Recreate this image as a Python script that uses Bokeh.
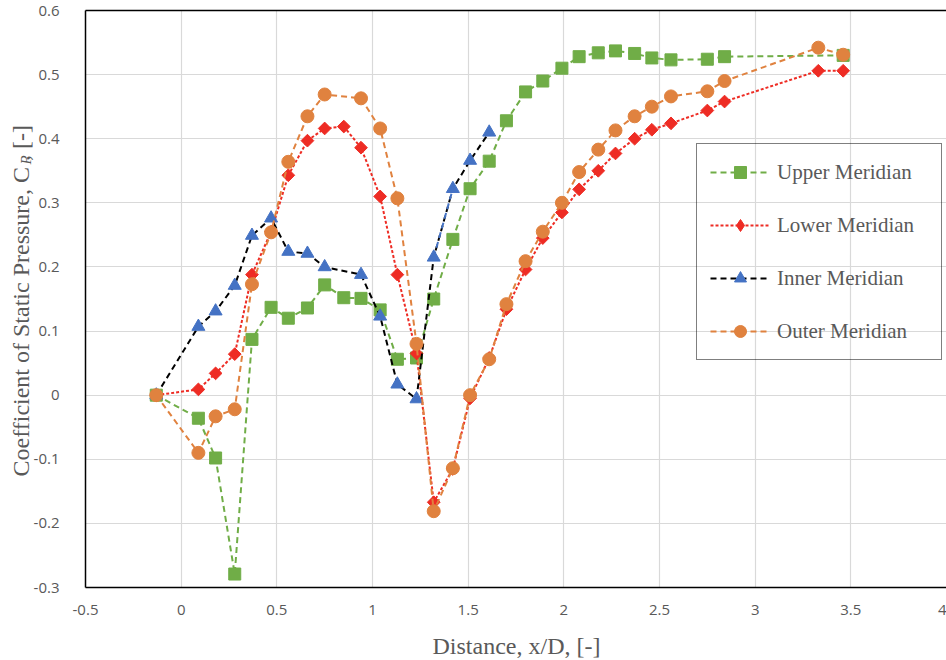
import numpy as np
from bokeh.plotting import figure
from bokeh.models import (Range1d, FixedTicker, PrintfTickFormatter, Legend,
                          LegendItem, Label, LinearAxis)
from bokeh.embed import file_html
from bokeh.resources import INLINE

# ---------------- data ----------------
upper_x = [-0.13, 0.09, 0.18, 0.28, 0.37, 0.47, 0.56, 0.66, 0.75, 0.85, 0.94, 1.04, 1.13, 1.23,
           1.32, 1.42, 1.51, 1.61, 1.70, 1.80, 1.89, 1.99, 2.08, 2.18, 2.27, 2.37, 2.46, 2.56,
           2.75, 2.84, 3.46]
upper_y = [0.0, -0.036, -0.098, -0.279, 0.087, 0.137, 0.12, 0.136, 0.172, 0.152, 0.151, 0.133,
           0.056, 0.058, 0.15, 0.243, 0.322, 0.365, 0.428, 0.473, 0.49, 0.51, 0.528, 0.534,
           0.537, 0.533, 0.526, 0.523, 0.524, 0.528, 0.53]

lower_x = [-0.13, 0.09, 0.18, 0.28, 0.37, 0.47, 0.56, 0.66, 0.75, 0.85, 0.94, 1.04, 1.13, 1.23,
           1.32, 1.42, 1.51, 1.61, 1.70, 1.80, 1.89, 1.99, 2.08, 2.18, 2.27, 2.37, 2.46, 2.56,
           2.75, 2.84, 3.33, 3.46]
lower_y = [0.0, 0.009, 0.034, 0.064, 0.188, 0.255, 0.343, 0.397, 0.416, 0.419, 0.386, 0.31,
           0.188, 0.065, -0.167, -0.115, -0.005, 0.058, 0.134, 0.196, 0.245, 0.285, 0.321,
           0.35, 0.377, 0.4, 0.414, 0.424, 0.444, 0.458, 0.506, 0.506]

inner_x = [-0.13, 0.09, 0.18, 0.28, 0.37, 0.47, 0.56, 0.66, 0.75, 0.94, 1.04, 1.13, 1.23,
           1.32, 1.42, 1.51, 1.61]
inner_y = [0.0, 0.107, 0.131, 0.171, 0.249, 0.276, 0.224, 0.221, 0.2, 0.188, 0.123, 0.017,
           -0.006, 0.215, 0.322, 0.366, 0.41]
inner_blue_segment = (13, 15)   # slice of points whose connecting segment is drawn blue

outer_x = [-0.13, 0.09, 0.18, 0.28, 0.37, 0.47, 0.56, 0.66, 0.75, 0.94, 1.04, 1.13, 1.23,
           1.32, 1.42, 1.51, 1.61, 1.70, 1.80, 1.89, 1.99, 2.08, 2.18, 2.27, 2.37, 2.46, 2.56,
           2.75, 2.84, 3.33, 3.46]
outer_y = [0.0, -0.09, -0.033, -0.022, 0.173, 0.254, 0.364, 0.435, 0.469, 0.463, 0.416, 0.307,
           0.08, -0.181, -0.114, 0.0, 0.056, 0.142, 0.209, 0.255, 0.30, 0.348, 0.383, 0.413,
           0.435, 0.45, 0.466, 0.474, 0.49, 0.542, 0.531]

x_ticks = [-0.5, 0, 0.5, 1, 1.5, 2, 2.5, 3, 3.5, 4]
y_ticks = [-0.3, -0.2, -0.1, 0, 0.1, 0.2, 0.3, 0.4, 0.5, 0.6]

series_names = ["Upper Meridian", "Lower Meridian", "Inner Meridian", "Outer Meridian"]

# ---------------- figure ----------------
GRAY = "#595959"
p = figure(width=946, height=660, output_backend="svg", toolbar_location=None,
           x_range=Range1d(-0.5, 4.0), y_range=Range1d(-0.3, 0.6),
           min_border_left=85, min_border_right=0, min_border_top=10, min_border_bottom=73)
p.background_fill_color = "white"
p.border_fill_color = "white"
p.outline_line_color = None

for ax in (p.xaxis[0], p.yaxis[0]):
    ax.axis_line_color = "black"
    ax.axis_line_width = 1.5
    ax.major_tick_line_color = None
    ax.minor_tick_line_color = None
    ax.major_tick_out = 0
    ax.major_tick_in = 0
    ax.major_label_text_font = "Open Sans"
    ax.major_label_text_font_size = "15px"
    ax.major_label_text_color = GRAY
    ax.formatter = PrintfTickFormatter(format="%g")
p.xaxis[0].ticker = FixedTicker(ticks=x_ticks)
p.yaxis[0].ticker = FixedTicker(ticks=y_ticks)
p.xaxis[0].major_label_standoff = 17
p.yaxis[0].major_label_standoff = 26

top_axis = LinearAxis(ticker=FixedTicker(ticks=[]), axis_line_color="black",
                      axis_line_width=1.5, major_tick_line_color=None,
                      minor_tick_line_color=None, major_tick_out=0, major_tick_in=0,
                      major_label_standoff=0)
p.add_layout(top_axis, "above")

p.xgrid.ticker = FixedTicker(ticks=x_ticks)
p.ygrid.ticker = FixedTicker(ticks=y_ticks)
p.xgrid.grid_line_color = "#d9d9d9"
p.ygrid.grid_line_color = "#d9d9d9"
p.xgrid.grid_line_width = 1.2
p.ygrid.grid_line_width = 1.2

GREEN = "#70AD47"
RED = "#EE2C24"
BLUE = "#4472C4"
ORANGE = "#E0823F"

items = []
# Upper
l1 = p.line(upper_x, upper_y, line_color=GREEN, line_width=2, line_dash="6 4")
s1 = p.scatter(upper_x, upper_y, marker="square", size=12, fill_color=GREEN, line_color=GREEN)
items.append(LegendItem(label=series_names[0], renderers=[l1, s1]))
# Lower
l2 = p.line(lower_x, lower_y, line_color=RED, line_width=2, line_dash="3 2")
s2 = p.scatter(lower_x, lower_y, marker="square", angle=np.pi / 4, size=9,
               fill_color=RED, line_color=RED)
# zero-size companion used only to give the legend a diamond glyph
s2_legend = p.scatter(lower_x[:1], lower_y[:1], marker="diamond", size=0,
                      fill_color=RED, line_color=RED)
items.append(LegendItem(label=series_names[1], renderers=[l2, s2_legend]))
# Inner
l3 = p.line(inner_x, inner_y, line_color="black", line_width=2, line_dash="6 4")
a, b = inner_blue_segment
p.line(inner_x[a:b], inner_y[a:b], line_color=BLUE, line_width=2, line_dash="6 4")
s3 = p.scatter(inner_x, inner_y, marker="triangle", size=13, fill_color=BLUE, line_color=BLUE)
items.append(LegendItem(label=series_names[2], renderers=[l3, s3]))
# Outer
l4 = p.line(outer_x, outer_y, line_color=ORANGE, line_width=2, line_dash="6 4")
s4 = p.scatter(outer_x, outer_y, marker="circle", size=13, fill_color=ORANGE, line_color=ORANGE)
items.append(LegendItem(label=series_names[3], renderers=[l4, s4]))

legend = Legend(items=items, location=(611, 227), orientation="vertical",
                label_text_font="Liberation Serif", label_text_font_size="21px",
                label_text_color=GRAY, glyph_width=60, glyph_height=30, label_height=30,
                label_width=151, label_standoff=7, spacing=23, padding=13, margin=0,
                border_line_color="black", border_line_width=1.5,
                background_fill_alpha=0.0)
p.add_layout(legend)

# ---------------- axis titles ----------------
F = 24
serif = "Liberation Serif"


def make_label(**kw):
    try:
        return Label(x_units="canvas", y_units="canvas", **kw)
    except Exception:
        return Label(x_units="screen", y_units="screen", **kw)


# y title reads bottom-to-top; start point / baseline in canvas pixels
Y_START, Y_BASE = 476, 20
y_title_main = "Coefficient of Static Pressure, C  , [-]"
y_title_sub = "P"
p.add_layout(make_label(x=Y_BASE, y=Y_START, text=y_title_main, angle=np.pi / 2,
                        text_font=serif, text_font_size=f"{F}px", text_color=GRAY,
                        text_align="left", text_baseline="alphabetic"), "left")
# subscript P, placed right after the C
p.add_layout(make_label(x=Y_BASE + 5, y=Y_START - 12.915 * F - 2, text=y_title_sub,
                        angle=np.pi / 2, text_font=serif, text_font_style="italic",
                        text_font_size=f"{int(F * 0.65)}px", text_color=GRAY,
                        text_align="left", text_baseline="alphabetic"), "below")

X_START, X_BASE = 432, 645
x_title = "Distance, x/D, [-]"
p.add_layout(make_label(x=X_START, y=X_BASE, text=x_title, text_font=serif,
                        text_font_size=f"{F}px", text_color=GRAY,
                        text_align="left", text_baseline="alphabetic"), "below")

open("out.html", "w").write(file_html(p, INLINE))
